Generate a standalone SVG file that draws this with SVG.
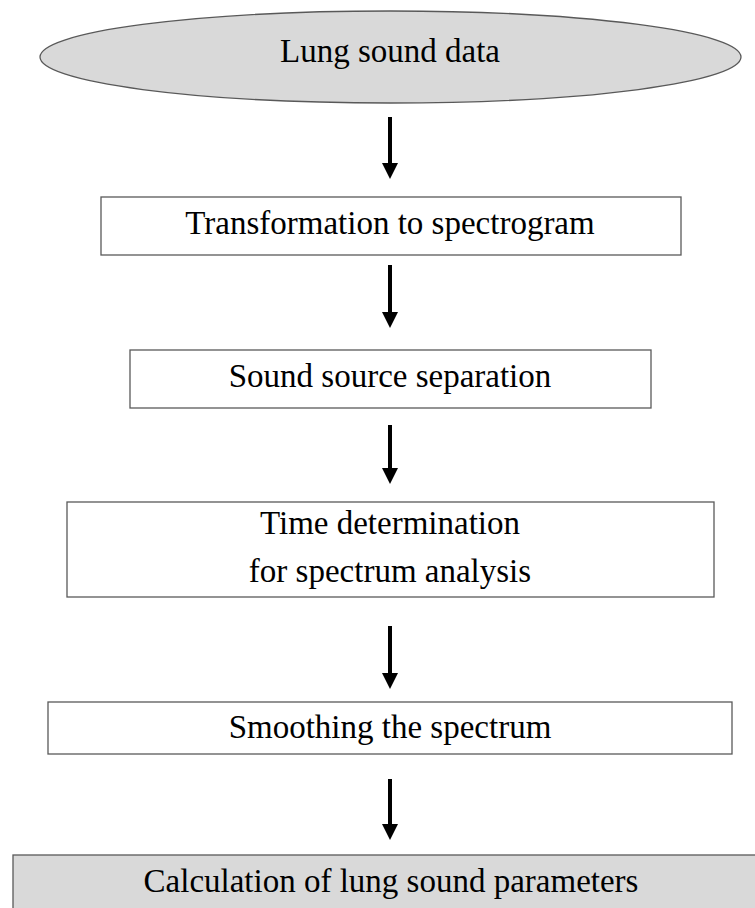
<svg xmlns="http://www.w3.org/2000/svg" width="755" height="908" viewBox="0 0 755 908">
<defs>
<style>
.box{fill:#ffffff;stroke:#595959;stroke-width:1.3}
.gray{fill:#d9d9d9;stroke:#595959;stroke-width:1.3}
.t{font-family:"Liberation Serif","Times New Roman",serif;font-size:33px;fill:#000;text-anchor:middle}
.arr{stroke:#000;stroke-width:4;fill:none}
</style>
<marker id="ah" viewBox="0 0 16 16" refX="0" refY="8" markerWidth="16" markerHeight="16" markerUnits="userSpaceOnUse" orient="auto">
<path d="M0,0 L16,8 L0,16 z" fill="#000"/>
</marker>
</defs>
<rect width="755" height="908" fill="#fff"/>
<g id="connectors">
<line class="arr" x1="390" y1="117" x2="390" y2="163" marker-end="url(#ah)"/>
<line class="arr" x1="390" y1="265" x2="390" y2="312" marker-end="url(#ah)"/>
<line class="arr" x1="390" y1="425" x2="390" y2="468" marker-end="url(#ah)"/>
<line class="arr" x1="390" y1="626" x2="390" y2="673" marker-end="url(#ah)"/>
<line class="arr" x1="390" y1="779" x2="390" y2="824" marker-end="url(#ah)"/>
</g>
<g id="n1">
<ellipse class="gray" cx="390.5" cy="57" rx="350.5" ry="46"/>
<text class="t" x="390" y="62">Lung sound data</text>
</g>
<g id="n2">
<rect class="box" x="101" y="197" width="580" height="58"/>
<text class="t" x="390" y="234">Transformation to spectrogram</text>
</g>
<g id="n3">
<rect class="box" x="130" y="350" width="521" height="58"/>
<text class="t" x="390" y="387">Sound source separation</text>
</g>
<g id="n4">
<rect class="box" x="67" y="502" width="647" height="95"/>
<text class="t" x="390" y="534">Time determination</text>
<text class="t" x="390" y="582">for spectrum analysis</text>
</g>
<g id="n5">
<rect class="box" x="48" y="702" width="684" height="52"/>
<text class="t" x="390" y="738">Smoothing the spectrum</text>
</g>
<g id="n6">
<rect class="gray" x="13" y="855" width="760" height="70"/>
<text class="t" x="391" y="892">Calculation of lung sound parameters</text>
</g>
</svg>
